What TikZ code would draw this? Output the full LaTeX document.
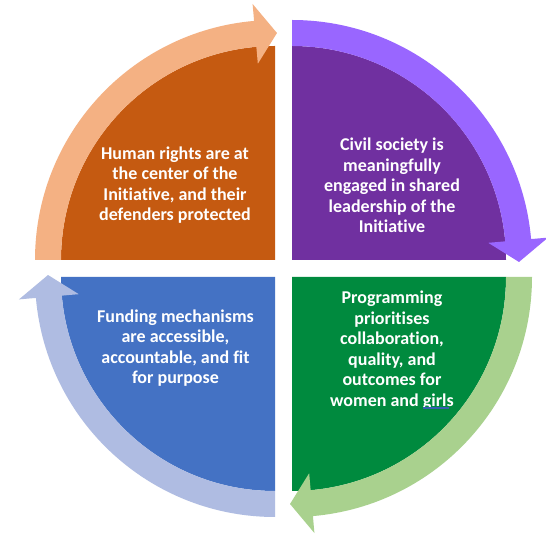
\documentclass[tikz,border=0pt]{standalone}
\usepackage{fontspec}
\setmainfont[Ligatures=NoCommon]{Carlito}
\definecolor{orD}{HTML}{C55A11}
\definecolor{orL}{HTML}{F4B183}
\definecolor{puD}{HTML}{7030A0}
\definecolor{puL}{HTML}{9966FF}
\definecolor{grD}{HTML}{008A3E}
\definecolor{grL}{HTML}{A9D18E}
\definecolor{blD}{HTML}{4472C4}
\definecolor{blL}{HTML}{AFBCE2}
\definecolor{spell}{HTML}{3560B0}
\newcommand{\quadpiece}[5]{%
  \begin{scope}[shift={(#1,#2)},rotate=#3]
    \fill[#4] (0,0) -- (90:214) arc[start angle=90,end angle=180,radius=214] -- cycle;
    \fill[#5] (180:214) -- (180:240) arc[start angle=180,end angle=95,radius=240]
      -- (95:257) -- (89.5:227) -- (95:197) -- (95:214)
      arc[start angle=95,end angle=180,radius=214] -- cycle;
  \end{scope}}
\tikzset{
  x=1pt,y=1pt,
  lbl/.style={text=white,font=\fontsize{18}{20.5}\selectfont\bfseries,align=center,inner sep=0pt}
}
\begin{document}
\begin{tikzpicture}
\useasboundingbox[fill=white] (0,0) rectangle (546,535);
\quadpiece{275}{275}{0}{orD}{orL}
\quadpiece{292}{275}{-90}{puD}{puL}
\quadpiece{292}{258}{-180}{grD}{grL}
\quadpiece{275}{258}{-270}{blD}{blL}
\node[lbl] (hr) at (175,350) {Human rights are at\\the center of the\\Initiative, and their\\defenders protected};
\node[lbl] (cs) at (392,349.5) {Civil society is\\meaningfully\\engaged in shared\\leadership of the\\Initiative};
\node[lbl] (fm) at (175.5,187) {Funding mechanisms\\are accessible,\\accountable, and fit\\for purpose};
\node[lbl] (pp) at (392,185) {Programming\\prioritises\\collaboration,\\quality, and\\outcomes for\\women and girls};
\coordinate (ulA) at (423,127);
\coordinate (ulB) at (449,127);
\draw[spell,line width=1.3pt] (ulA) -- (ulB);
\end{tikzpicture}
\end{document}
